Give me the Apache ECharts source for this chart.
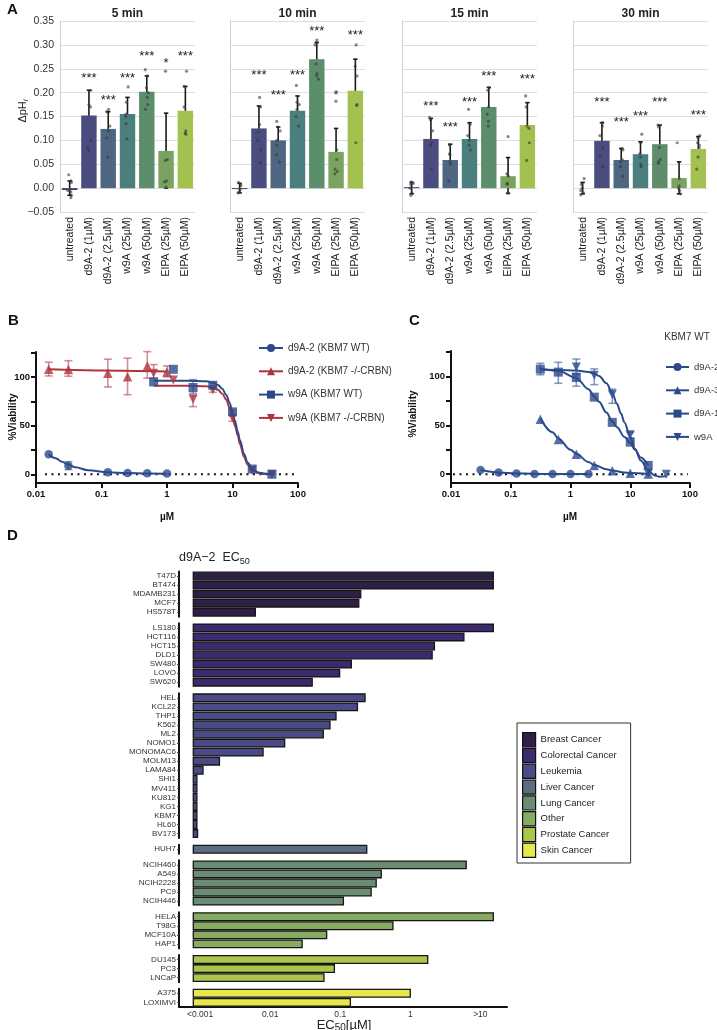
<!DOCTYPE html>
<html><head><meta charset="utf-8">
<script src="https://cdn.jsdelivr.net/npm/echarts@6/dist/echarts.min.js"></script>
<style>html,body{margin:0;padding:0;background:#fff}#c{width:717px;height:1030px}</style>
</head><body><div id="c"></div>
<script>
const FONT = '"Liberation Sans", Arial, Helvetica, sans-serif';

// ---------------- Panel A data ----------------
const catsA = ['untreated','d9A-2 (1µM)','d9A-2 (2.5µM)','w9A (25µM)','w9A (50µM)','EIPA (25µM)','EIPA (50µM)'];
const titlesA = ['5 min','10 min','15 min','30 min'];

const meanA_5  = [-0.004, 0.152, 0.124, 0.155, 0.202, 0.078, 0.162];
const loA_5    = [-0.015, 0.100, 0.088, 0.120, 0.170, 0.000, 0.112];
const hiA_5    = [0.015, 0.205, 0.160, 0.190, 0.235, 0.157, 0.213];
const starA_5  = ['', '***', '***', '***', '***', '*', '***'];
const starYA_5 = [null, 0.237, 0.190, 0.237, 0.283, 0.268, 0.283];
const dotsA_5 = [
  [0.028, 0.015, 0.012, -0.005, -0.008, -0.015, -0.020],
  [0.205, 0.175, 0.170, 0.100, 0.085, 0.078],
  [0.165, 0.160, 0.130, 0.120, 0.105, 0.065],
  [0.212, 0.180, 0.155, 0.150, 0.135, 0.103],
  [0.248, 0.235, 0.210, 0.200, 0.190, 0.175, 0.165],
  [0.245, 0.060, 0.058, 0.015, 0.013, 0.002],
  [0.245, 0.213, 0.170, 0.120, 0.115, 0.113]
];

const meanA_10  = [-0.002, 0.125, 0.100, 0.162, 0.270, 0.076, 0.204];
const loA_10    = [-0.010, 0.080, 0.072, 0.135, 0.237, 0.028, 0.138];
const hiA_10    = [0.010, 0.172, 0.128, 0.193, 0.305, 0.125, 0.270];
const starA_10  = ['', '***', '***', '***', '***', '*', '***'];
const starYA_10 = [null, 0.243, 0.200, 0.243, 0.335, 0.200, 0.327];
const dotsA_10 = [
  [0.012, 0.008, 0.005, -0.003, -0.008, -0.010],
  [0.190, 0.170, 0.133, 0.118, 0.100, 0.080, 0.053],
  [0.140, 0.128, 0.120, 0.100, 0.090, 0.070, 0.055],
  [0.215, 0.180, 0.175, 0.165, 0.150, 0.130],
  [0.310, 0.305, 0.300, 0.260, 0.240, 0.235, 0.228],
  [0.182, 0.080, 0.060, 0.040, 0.035, 0.030],
  [0.300, 0.255, 0.235, 0.175, 0.173, 0.095]
];

const meanA_15  = [0.002, 0.103, 0.059, 0.103, 0.170, 0.025, 0.132];
const loA_15    = [-0.012, 0.060, 0.036, 0.068, 0.128, -0.011, 0.088];
const hiA_15    = [0.012, 0.146, 0.092, 0.137, 0.211, 0.064, 0.179];
const starA_15  = ['', '***', '***', '***', '***', '', '***'];
const starYA_15 = [null, 0.178, 0.134, 0.185, 0.241, null, 0.233];
const dotsA_15 = [
  [0.013, 0.010, 0.008, 0.000, -0.010, -0.015],
  [0.148, 0.143, 0.120, 0.095, 0.090, 0.040],
  [0.090, 0.072, 0.070, 0.055, 0.050, 0.015],
  [0.165, 0.133, 0.110, 0.100, 0.090, 0.080],
  [0.210, 0.205, 0.170, 0.155, 0.140, 0.130],
  [0.108, 0.030, 0.025, 0.010, 0.008, -0.010],
  [0.193, 0.170, 0.130, 0.125, 0.095, 0.058]
];

const meanA_30  = [0.000, 0.099, 0.059, 0.071, 0.092, 0.021, 0.082];
const loA_30    = [-0.012, 0.065, 0.045, 0.052, 0.055, -0.012, 0.060];
const hiA_30    = [0.012, 0.137, 0.083, 0.097, 0.132, 0.055, 0.108];
const starA_30  = ['', '***', '***', '***', '***', '', '***'];
const starYA_30 = [null, 0.185, 0.143, 0.157, 0.185, null, 0.159];
const dotsA_30 = [
  [0.020, 0.008, 0.000, -0.005, -0.010, -0.014],
  [0.137, 0.130, 0.110, 0.085, 0.066, 0.045],
  [0.083, 0.080, 0.060, 0.055, 0.045, 0.025],
  [0.113, 0.095, 0.072, 0.065, 0.050, 0.045],
  [0.132, 0.128, 0.085, 0.060, 0.055, 0.052],
  [0.095, 0.020, 0.005, 0.000, -0.005, -0.012],
  [0.110, 0.105, 0.095, 0.090, 0.085, 0.065, 0.040]
];

// ---------------- Panel B data ----------------
const doseB_d9A2 = [0.015625, 0.03125, 0.125, 0.25, 0.5, 1];
const viabB_d9A2_WT = [20.6, 8.9, 2.0, 1.4, 1.0, 0.7];
const viabB_d9A2_KO = [108.2, 108.0, 104.0, 100.6, 111.6, 105.5];
const doseB_w9A = [0.625, 1.25, 2.5, 5, 10, 20, 40];
const viabB_w9A_WT = [95.2, 108.2, 89.4, 91.7, 64.3, 5.4, 0.0];
const viabB_w9A_KO = [104.0, 97.2, 77.3, 87.0, 58.0, 4.0, 0.0];
const errB_d9A2_WT = [[0.03125, 4.8, 13.0]];
const errB_d9A2_KO = [[0.015625, 101.3, 115.5], [0.03125, 101.0, 117.0], [0.125, 90.0, 118.6], [0.25, 82.0, 119.6], [0.5, 99.0, 126.4], [1, 100.5, 111.7]];
const errB_w9A_WT = [[2.5, 83.5, 97.5]];
const errB_w9A_KO = [[0.625, 99.0, 113.0], [2.5, 69.7, 81.8], [5, 84.5, 90.0], [10, 54.6, 66.0]];
const fitB_d9A2_WT_x = [0.0156, 0.02, 0.025, 0.03125, 0.04, 0.0625, 0.125, 0.25, 0.5, 1];
const fitB_d9A2_WT_y = [20.5, 16.5, 12.8, 9.8, 7.2, 4.2, 2.0, 1.2, 0.8, 0.6];
const fitB_d9A2_KO_x = [0.0156, 0.1, 1];
const fitB_d9A2_KO_y = [108.2, 107.0, 106.0];
const fitB_w9A_WT_x = [0.625, 2, 4, 5, 6, 7, 8, 9, 10, 11, 12, 13, 15, 17, 20, 25, 30, 40];
const fitB_w9A_WT_y = [96.5, 96.5, 95.8, 94.5, 92, 88, 82, 74, 64, 54, 44, 35, 21, 12, 5.5, 1.8, 0.7, 0];
const fitB_w9A_KO_x = [0.625, 2, 4, 5, 6, 7, 8, 9, 10, 11, 12, 13, 15, 17, 20, 25, 30, 40];
const fitB_w9A_KO_y = [91.3, 91.3, 90.6, 89.5, 87, 83, 77, 69, 59, 49, 40, 31, 18, 10, 4, 1.2, 0.3, 0];
const namesB = ['d9A-2 (KBM7 WT)', 'd9A-2 (KBM7 -/-CRBN)', 'w9A (KBM7 WT)', 'w9A (KBM7 -/-CRBN)'];

// ---------------- Panel C data ----------------
const doseC_d9A2 = [0.03125, 0.0625, 0.125, 0.25, 0.5, 1, 2];
const viabC_d9A2 = [4.3, 1.7, 0.7, 0.3, 0.1, 0.1, 0.1];
const doseC_d9A = [0.3125, 0.625, 1.25, 2.5, 5, 10, 20];
const viabC_d9A3 = [56.3, 35.5, 20.4, 9.0, 3.6, 1.0, 0.2];
const viabC_d9A1 = [107.4, 104.4, 98.9, 78.8, 53.0, 32.8, 9.0];
const doseC_w9A = [1.25, 2.5, 5, 10, 20, 40];
const viabC_w9A = [109.7, 101.3, 81.5, 40.3, 1.0, 0.0];
const errC_d9A1 = [[0.3125, 101.7, 113.4], [0.625, 93.0, 114.4], [1.25, 90.0, 103.3]];
const errC_w9A = [[1.25, 102.0, 117.8], [2.5, 91.6, 107.7], [5, 72.5, 87.0], [10, 37.0, 43.0]];
const fitC_d9A2_x = [0.03125, 0.0625, 0.125, 0.25, 0.5, 1, 2];
const fitC_d9A2_y = [4.3, 1.8, 0.8, 0.4, 0.2, 0.1, 0.1];
const fitC_d9A3_x = [0.3125, 0.5, 0.625, 1, 1.25, 2, 2.5, 4, 5, 8, 10, 20];
const fitC_d9A3_y = [57, 43, 36.5, 25, 21, 12.5, 9.5, 5, 3.8, 1.8, 1.2, 0.3];
const fitC_d9A1_x = [0.3125, 0.625, 1.25, 2, 2.5, 3, 4, 5, 6, 8, 10, 12, 15, 20];
const fitC_d9A1_y = [108, 105.5, 98.5, 87, 79.5, 74, 63, 54, 48, 38, 32, 25, 17, 9];
const fitC_w9A_x = [0.3125, 0.625, 1.25, 2, 2.5, 3, 4, 5, 6, 7, 8, 10, 12, 15, 20, 25, 30, 40];
const fitC_w9A_y = [107, 106.5, 106, 104.5, 103, 100.5, 93, 83, 72, 62, 53, 38, 26, 14, 4, -1, -2.5, -2];
const namesC = ['d9A-2', 'd9A-3', 'd9A-1', 'w9A'];

// ---------------- Panel D data ----------------
const dTypes = ['Breast Cancer','Colorectal Cancer','Leukemia','Liver Cancer','Lung Cancer','Other','Prostate Cancer','Skin Cancer'];
const dBreastLines = ['T47D','BT474','MDAMB231','MCF7','HS578T'];
const dBreastEC50 = [15.3, 15.3, 0.196, 0.184, 0.00614];
const dColoLines = ['LS180','HCT116','HCT15','DLD1','SW480','LOVO','SW620'];
const dColoEC50 = [15.3, 5.82, 2.21, 2.05, 0.144, 0.098, 0.0398];
const dLeukLines = ['HEL','KCL22','THP1','K562','ML2','NOMO1','MONOMAC6','MOLM13','LAMA84','SHI1','MV411','KU812','KG1','KBM7','HL60','BV173'];
const dLeukEC50 = [0.226, 0.176, 0.087, 0.0714, 0.0573, 0.0161, 0.00792, 0.00189, 0.0011, 0.0009, 0.0009, 0.0009, 0.0009, 0.0009, 0.0009, 0.00092];
const dLiverLines = ['HUH7'];
const dLiverEC50 = [0.239];
const dLungLines = ['NCIH460','A549','NCIH2228','PC9','NCIH446'];
const dLungEC50 = [6.28, 0.385, 0.326, 0.276, 0.111];
const dOtherLines = ['HELA','T98G','MCF10A','HAP1'];
const dOtherEC50 = [15.3, 0.565, 0.064, 0.0286];
const dProstLines = ['DU145','PC3','LNCaP'];
const dProstEC50 = [1.77, 0.0824, 0.0586];
const dSkinLines = ['A375','LOXIMVI'];
const dSkinEC50 = [1.0, 0.1396];
const dTickText = {'-3': '<0.001', '-2': '0.01', '-1': '0.1', '0': '1', '1': '>10'};

// ---------------- styles ----------------
const colorsA = ['#403c74', '#4b4d80', '#4f6683', '#4b7f7e', '#5c8e6b', '#79a35f', '#a3c14f'];
const BLUE = '#2b4a8c', RED = '#b0343f';
const BLUE_E = 'rgba(43,74,140,0.55)', RED_E = 'rgba(176,52,63,0.55)';
const DOWN = 'path://M0,0L10,0L5,8.66Z';
const colorsD = ['#2e1f47', '#3b2a6e', '#4a4b86', '#5a6d82', '#6a8c73', '#86ab61', '#adc54b', '#e6e84c'];

const grid = [], xAxis = [], yAxis = [], series = [], graphic = [];

function errRenderer(capHalf, color, lw) {
  return function (params, api) {
    const x = api.value(0);
    const p1 = api.coord([x, api.value(1)]);
    const p2 = api.coord([x, api.value(2)]);
    const st = { stroke: color, lineWidth: lw };
    return { type: 'group', children: [
      { type: 'line', shape: { x1: p1[0], y1: p1[1], x2: p2[0], y2: p2[1] }, style: st },
      { type: 'line', shape: { x1: p1[0] - capHalf, y1: p1[1], x2: p1[0] + capHalf, y2: p1[1] }, style: st },
      { type: 'line', shape: { x1: p2[0] - capHalf, y1: p2[1], x2: p2[0] + capHalf, y2: p2[1] }, style: st }
    ]};
  };
}

// ---------------- Panel A build ----------------
const setsA = [
  { mean: meanA_5, lo: loA_5, hi: hiA_5, star: starA_5, starY: starYA_5, dots: dotsA_5 },
  { mean: meanA_10, lo: loA_10, hi: hiA_10, star: starA_10, starY: starYA_10, dots: dotsA_10 },
  { mean: meanA_15, lo: loA_15, hi: hiA_15, star: starA_15, starY: starYA_15, dots: dotsA_15 },
  { mean: meanA_30, lo: loA_30, hi: hiA_30, star: starA_30, starY: starYA_30, dots: dotsA_30 }
];
const leftA = [60, 230, 402, 573];
setsA.forEach((s, i) => {
  const gi = grid.length;
  grid.push({ left: leftA[i], top: 21, width: 135, height: 191, containLabel: false, outerBoundsMode: 'none' });
  xAxis.push({ gridIndex: gi, type: 'category', data: catsA, jitter: 4, jitterOverlap: true,
    axisLine: { show: false, onZero: false }, axisTick: { show: false },
    axisLabel: { rotate: 90, interval: 0, fontSize: 10.5, color: '#222', margin: 5, fontFamily: FONT } });
  yAxis.push({ gridIndex: gi, type: 'value', min: -0.05, max: 0.35, interval: 0.05,
    axisLine: { show: true, onZero: false, lineStyle: { color: '#cfcfcf', width: 1 } }, axisTick: { show: false },
    splitLine: { show: true, lineStyle: { color: '#dedede', width: 1 } },
    axisLabel: { show: i === 0, fontSize: 10.5, color: '#333', margin: 6, fontFamily: FONT,
      formatter: v => (v < -1e-9 ? '−' + Math.abs(v).toFixed(2) : Math.abs(v).toFixed(2)) } });
  series.push({ type: 'bar', xAxisIndex: gi, yAxisIndex: gi, barWidth: '80%', silent: true,
    data: s.mean.map((v, k) => ({ value: v, itemStyle: { color: colorsA[k] } })) });
  series.push({ type: 'scatter', xAxisIndex: gi, yAxisIndex: gi, symbolSize: 3.2, silent: true,
    itemStyle: { color: 'rgba(55,55,55,0.75)' },
    data: s.dots.flatMap((arr, k) => arr.map(v => [k, v])) });
  series.push({ type: 'custom', xAxisIndex: gi, yAxisIndex: gi, silent: true,
    renderItem: errRenderer(2.2, '#1a1a1a', 1.6), encode: { x: 0, y: [1, 2] },
    data: s.mean.map((m, k) => [k, s.lo[k], s.hi[k]]) });
  const starIdx = s.star.map((t, k) => k).filter(k => s.star[k]);
  const starTexts = starIdx.map(k => s.star[k]);
  series.push({ type: 'custom', xAxisIndex: gi, yAxisIndex: gi, silent: true, encode: { x: 0, y: 1 },
    renderItem: function (params, api) {
      const p = api.coord([api.value(0), api.value(1)]);
      return { type: 'text', x: p[0], y: p[1] + 3,
        style: { text: starTexts[params.dataIndex], fontSize: 13, fontFamily: FONT, fill: '#222', align: 'center', verticalAlign: 'middle' } };
    },
    data: starIdx.map(k => [k, s.starY[k]]) });
  graphic.push({ type: 'text', x: leftA[i] + 67.5, y: 14,
    style: { text: titlesA[i], font: 'bold 12px ' + FONT, fill: '#222', align: 'center', verticalAlign: 'middle', textAlign: 'center', textVerticalAlign: 'middle' } });
});

// ---------------- Panels B & C ----------------
function logX(gi) {
  return { gridIndex: gi, type: 'log', logBase: 10, min: 0.01, max: 100,
    axisLine: { show: true, onZero: false, lineStyle: { color: '#111', width: 2 } },
    axisTick: { show: true, length: 5, lineStyle: { color: '#111', width: 2 } },
    splitLine: { show: false }, minorTick: { show: false },
    axisLabel: { fontSize: 9.5, fontWeight: 'bold', color: '#111', margin: 6, fontFamily: FONT,
      formatter: v => ['0.01', '0.1', '1', '10', '100'][Math.round(Math.log10(v)) + 2] } };
}
function viabY(gi) {
  return { gridIndex: gi, type: 'value', min: -9, max: 126,
    axisLine: { show: true, onZero: false, lineStyle: { color: '#111', width: 2 } },
    axisTick: { show: true, length: 5, lineStyle: { color: '#111', width: 2 }, customValues: [0, 25, 50, 75, 100, 125] },
    splitLine: { show: false },
    axisLabel: { fontSize: 9.5, fontWeight: 'bold', color: '#111', margin: 6, fontFamily: FONT, customValues: [0, 50, 100] } };
}
function curve(name, xs, ys, symbol, color, gi) {
  return { type: 'line', name, xAxisIndex: gi, yAxisIndex: gi, data: xs.map((x, k) => [x, ys[k]]),
    smooth: 0.35, smoothMonotone: 'x', showSymbol: false, symbol, symbolSize: 8, silent: true,
    lineStyle: { color, width: 2 }, itemStyle: { color }, z: 3 };
}
function pts(name, xs, ys, symbol, size, color, gi) {
  return { type: 'scatter', name, xAxisIndex: gi, yAxisIndex: gi, data: xs.map((x, k) => [x, ys[k]]),
    symbol, symbolSize: size, itemStyle: { color }, silent: true, z: 4 };
}
function errs(data, color, gi) {
  return { type: 'custom', xAxisIndex: gi, yAxisIndex: gi, silent: true, encode: { x: 0, y: [1, 2] },
    renderItem: errRenderer(4, color, 1.6), data, z: 2 };
}
function zeroLine(x0, x1, gi) {
  return { type: 'line', name: 'zero' + gi, xAxisIndex: gi, yAxisIndex: gi, data: [[x0, 0], [x1, 0]],
    showSymbol: false, symbol: 'none', silent: true, lineStyle: { color: '#111', width: 2, type: [2, 4.5] }, z: 1 };
}

// B
const gB = grid.length;
grid.push({ left: 36, top: 352, width: 262, height: 131, containLabel: false, outerBoundsMode: 'none' });
xAxis.push(logX(gB)); yAxis.push(viabY(gB));
series.push(curve(namesB[0], fitB_d9A2_WT_x, fitB_d9A2_WT_y, 'circle', BLUE, gB));
series.push(curve(namesB[1], fitB_d9A2_KO_x, fitB_d9A2_KO_y, 'triangle', RED, gB));
series.push(curve(namesB[3], fitB_w9A_KO_x, fitB_w9A_KO_y, DOWN, RED, gB));
series.push(curve(namesB[2], fitB_w9A_WT_x, fitB_w9A_WT_y, 'rect', BLUE, gB));
series.push(zeroLine(0.0137, 100, gB));
series.push(errs(errB_d9A2_WT, BLUE_E, gB));
series.push(errs(errB_d9A2_KO, RED_E, gB));
series.push(errs(errB_w9A_KO, RED_E, gB));
series.push(errs(errB_w9A_WT, BLUE_E, gB));
series.push(pts(namesB[0], doseB_d9A2, viabB_d9A2_WT, 'circle', 8.5, BLUE, gB));
series.push(pts(namesB[1], doseB_d9A2, viabB_d9A2_KO, 'triangle', 9.5, RED, gB));
series.push(pts(namesB[3], doseB_w9A, viabB_w9A_KO, DOWN, 9, RED, gB));
series.push(pts(namesB[2], doseB_w9A, viabB_w9A_WT, 'rect', 9, BLUE, gB));

// C
const gC = grid.length;
grid.push({ left: 451, top: 351, width: 239, height: 132, containLabel: false, outerBoundsMode: 'none' });
xAxis.push(logX(gC)); yAxis.push(viabY(gC));
series.push(curve(namesC[0], fitC_d9A2_x, fitC_d9A2_y, 'circle', BLUE, gC));
series.push(curve(namesC[1], fitC_d9A3_x, fitC_d9A3_y, 'triangle', BLUE, gC));
series.push(curve(namesC[2], fitC_d9A1_x, fitC_d9A1_y, 'rect', BLUE, gC));
series.push(curve(namesC[3], fitC_w9A_x, fitC_w9A_y, DOWN, BLUE, gC));
series.push(zeroLine(0.0108, 92, gC));
series.push(errs(errC_d9A1, BLUE_E, gC));
series.push(errs(errC_w9A, BLUE_E, gC));
series.push(pts(namesC[0], doseC_d9A2, viabC_d9A2, 'circle', 8.5, BLUE, gC));
series.push(pts(namesC[1], doseC_d9A, viabC_d9A3, 'triangle', 9.5, BLUE, gC));
series.push(pts(namesC[2], doseC_d9A, viabC_d9A1, 'rect', 9, BLUE, gC));
series.push(pts(namesC[3], doseC_w9A, viabC_w9A, DOWN, 9, BLUE, gC));

// ---------------- Panel D ----------------
const groupsD = [
  [dBreastLines, dBreastEC50], [dColoLines, dColoEC50], [dLeukLines, dLeukEC50], [dLiverLines, dLiverEC50],
  [dLungLines, dLungEC50], [dOtherLines, dOtherEC50], [dProstLines, dProstEC50], [dSkinLines, dSkinEC50]
];
const PITCH = 9.05, GAP = 6.6, D_START = 0.0008;
let topD = 571.5;
groupsD.forEach((g, i) => {
  const gi = grid.length;
  const h = g[0].length * PITCH;
  const last = i === groupsD.length - 1;
  grid.push({ left: 179, top: topD, width: 328, height: h, containLabel: false, outerBoundsMode: 'none' });
  topD += h + GAP;
  xAxis.push({ gridIndex: gi, type: 'log', logBase: 10, min: 0.0005, max: 24, show: last,
    axisLine: { show: last, onZero: false, lineStyle: { color: '#111', width: 2 } },
    axisTick: { show: false }, splitLine: { show: false }, minorTick: { show: false },
    axisLabel: { show: last, fontSize: 8.5, color: '#333', margin: 3, fontFamily: FONT, showMinLabel: true, showMaxLabel: true,
      formatter: v => { const e = Math.log10(v); const r = Math.round(e); return Math.abs(e - r) < 1e-4 && dTickText[String(r)] ? dTickText[String(r)] : ''; } } });
  yAxis.push({ gridIndex: gi, type: 'category', data: g[0], inverse: true,
    axisLine: { show: true, onZero: false, lineStyle: { color: '#111', width: 2 } },
    axisTick: { show: true, length: 2, alignWithLabel: true, lineStyle: { color: '#444', width: 1 } },
    splitLine: { show: false },
    axisLabel: { interval: 0, fontSize: 8, color: '#333', margin: 3, fontFamily: FONT } });
  series.push({ type: 'custom', name: dTypes[i], xAxisIndex: gi, yAxisIndex: gi, silent: true,
    itemStyle: { color: colorsD[i] }, encode: { x: 0, y: 1 },
    renderItem: function (params, api) {
      const idx = api.value(1);
      const s = api.coord([D_START, idx]);
      const e = api.coord([api.value(0), idx]);
      const bh = api.size([1, 1])[1] * 0.84;
      return { type: 'rect', shape: { x: s[0], y: e[1] - bh / 2, width: e[0] - s[0], height: bh },
        style: { fill: api.visual('color'), stroke: '#151515', lineWidth: 1.3 } };
    },
    data: g[1].map((v, k) => [v, k]) });
});

// ---------------- text graphics ----------------
const T = (text, x, y, font, extra) => Object.assign({ type: 'text', x, y,
  style: { text, font, fill: '#111', align: 'left', verticalAlign: 'top', textAlign: 'left', textVerticalAlign: 'top' } }, extra || {});
graphic.push(T('A', 7, 2, 'bold 15px ' + FONT));
graphic.push(T('B', 8, 313, 'bold 15px ' + FONT));
graphic.push(T('C', 409, 313, 'bold 15px ' + FONT));
graphic.push(T('D', 7, 528, 'bold 15px ' + FONT));
graphic.push({ type: 'text', x: 23, y: 111, rotation: Math.PI / 2,
  style: { text: '{a|ΔpH}{s|i}', fill: '#222', align: 'center', verticalAlign: 'middle', textAlign: 'center', textVerticalAlign: 'middle',
    rich: { a: { fontSize: 11, fontFamily: FONT, lineHeight: 14, fill: '#222' },
            s: { fontSize: 8, fontStyle: 'italic', fontFamily: FONT, lineHeight: 8, verticalAlign: 'bottom', fill: '#222' } } } });
const cen = { align: 'center', verticalAlign: 'middle', textAlign: 'center', textVerticalAlign: 'middle' };
graphic.push({ type: 'text', x: 13, y: 417, rotation: Math.PI / 2, style: Object.assign({ text: '%Viability', font: 'bold 10px ' + FONT, fill: '#111' }, cen) });
graphic.push({ type: 'text', x: 413, y: 414, rotation: Math.PI / 2, style: Object.assign({ text: '%Viability', font: 'bold 10px ' + FONT, fill: '#111' }, cen) });
graphic.push({ type: 'text', x: 167, y: 517, style: Object.assign({ text: 'µM', font: 'bold 10px ' + FONT, fill: '#111' }, cen) });
graphic.push({ type: 'text', x: 570, y: 517, style: Object.assign({ text: 'µM', font: 'bold 10px ' + FONT, fill: '#111' }, cen) });
graphic.push({ type: 'text', x: 687, y: 337, style: Object.assign({ text: 'KBM7 WT', font: '10px ' + FONT, fill: '#333' }, cen) });
graphic.push({ type: 'text', x: 179, y: 558,
  style: { text: '{a|d9A−2  EC}{s|50}', align: 'left', verticalAlign: 'middle', textAlign: 'left', textVerticalAlign: 'middle',
    rich: { a: { fontSize: 12.5, fontFamily: FONT, lineHeight: 16, fill: '#222' },
            s: { fontSize: 9, fontFamily: FONT, lineHeight: 8, verticalAlign: 'bottom', fill: '#222' } } } });
graphic.push({ type: 'text', x: 344, y: 1025,
  style: { text: '{a|EC}{s|50}{a|[µM]}', align: 'center', verticalAlign: 'middle', textAlign: 'center', textVerticalAlign: 'middle',
    rich: { a: { fontSize: 13, fontFamily: FONT, lineHeight: 16, fill: '#222' },
            s: { fontSize: 10, fontFamily: FONT, lineHeight: 8, verticalAlign: 'bottom', fill: '#222' } } } });

const option = {
  animation: false,
  backgroundColor: '#fff',
  textStyle: { fontFamily: FONT },
  grid, xAxis, yAxis, series, graphic,
  legend: [
    { data: namesB, orient: 'vertical', left: 258, top: 342, itemWidth: 24, itemHeight: 10, itemGap: 11.3, padding: 0,
      selectedMode: false, textStyle: { fontSize: 10, color: '#333', lineHeight: 12, fontFamily: FONT } },
    { data: namesC, orient: 'vertical', left: 665, top: 361, itemWidth: 23, itemHeight: 10, itemGap: 11.3, padding: 0,
      selectedMode: false, textStyle: { fontSize: 9.5, color: '#333', lineHeight: 12, fontFamily: FONT } },
    { data: dTypes, orient: 'vertical', left: 517, top: 723, icon: 'rect', itemWidth: 13, itemHeight: 14.2, itemGap: 0.4,
      padding: [9, 14, 5, 5], borderColor: '#333', borderWidth: 1, selectedMode: false,
      itemStyle: { borderColor: '#111', borderWidth: 1.2 },
      textStyle: { fontSize: 9.5, color: '#222', fontFamily: FONT } }
  ]
};
const chart = echarts.init(document.getElementById('c'), null, { renderer: 'canvas', width: 717, height: 1030 });
chart.setOption(option);
</script></body></html>
